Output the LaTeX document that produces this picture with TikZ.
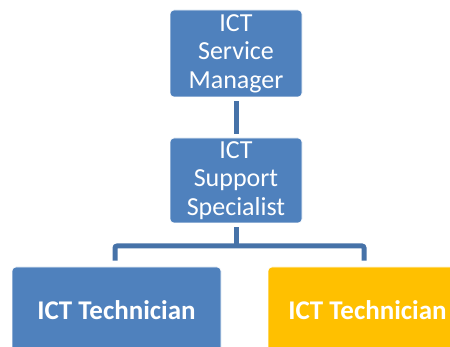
\documentclass[tikz,border=0pt]{standalone}
\usepackage{fontspec}
\setmainfont{Carlito}
\definecolor{boxblue}{HTML}{4F81BD}
\definecolor{boxgold}{HTML}{FFC000}
\definecolor{linkblue}{HTML}{4672A8}
\begin{document}
\begin{tikzpicture}[x=1pt,y=-1pt,
  role/.style={draw=white, line width=0.6pt, rounded corners=4pt, fill=boxblue,
    text=white, inner sep=0pt, align=center, font=\fontsize{26}{28.5}\selectfont},
  tech/.style={role, font=\fontsize{27}{30}\selectfont\bfseries,
    minimum width=209pt, minimum height=86pt},
  link/.style={draw=linkblue, line width=5pt, rounded corners=2pt}]
\useasboundingbox (0,0) rectangle (450,347);
\clip (0,0) rectangle (450,347);

% management chain
\node[role, minimum width=132pt, minimum height=87pt] (mgr) at (236,53.5) {ICT\\Service\\Manager};
\node[role, minimum width=132pt, minimum height=85pt] (spec) at (236,180.5) {ICT\\Support\\Specialist};

% technicians
\node[tech] (techA) at (116.5,310) {ICT Technician};
\node[tech, fill=boxgold, minimum width=199pt] (techB) at (367.5,310) {ICT Technician};

% connectors
\coordinate (bus) at (236,246);
\draw[link] ([yshift=-4pt]mgr.south) -- ([yshift=4pt]spec.north);
\draw[link] ([yshift=-4pt]spec.south) -- (bus);
\draw[link] ([xshift=-1.5pt,yshift=6pt]techA.north) |- (bus) -| ([xshift=-3.5pt,yshift=6pt]techB.north);
\end{tikzpicture}
\end{document}
